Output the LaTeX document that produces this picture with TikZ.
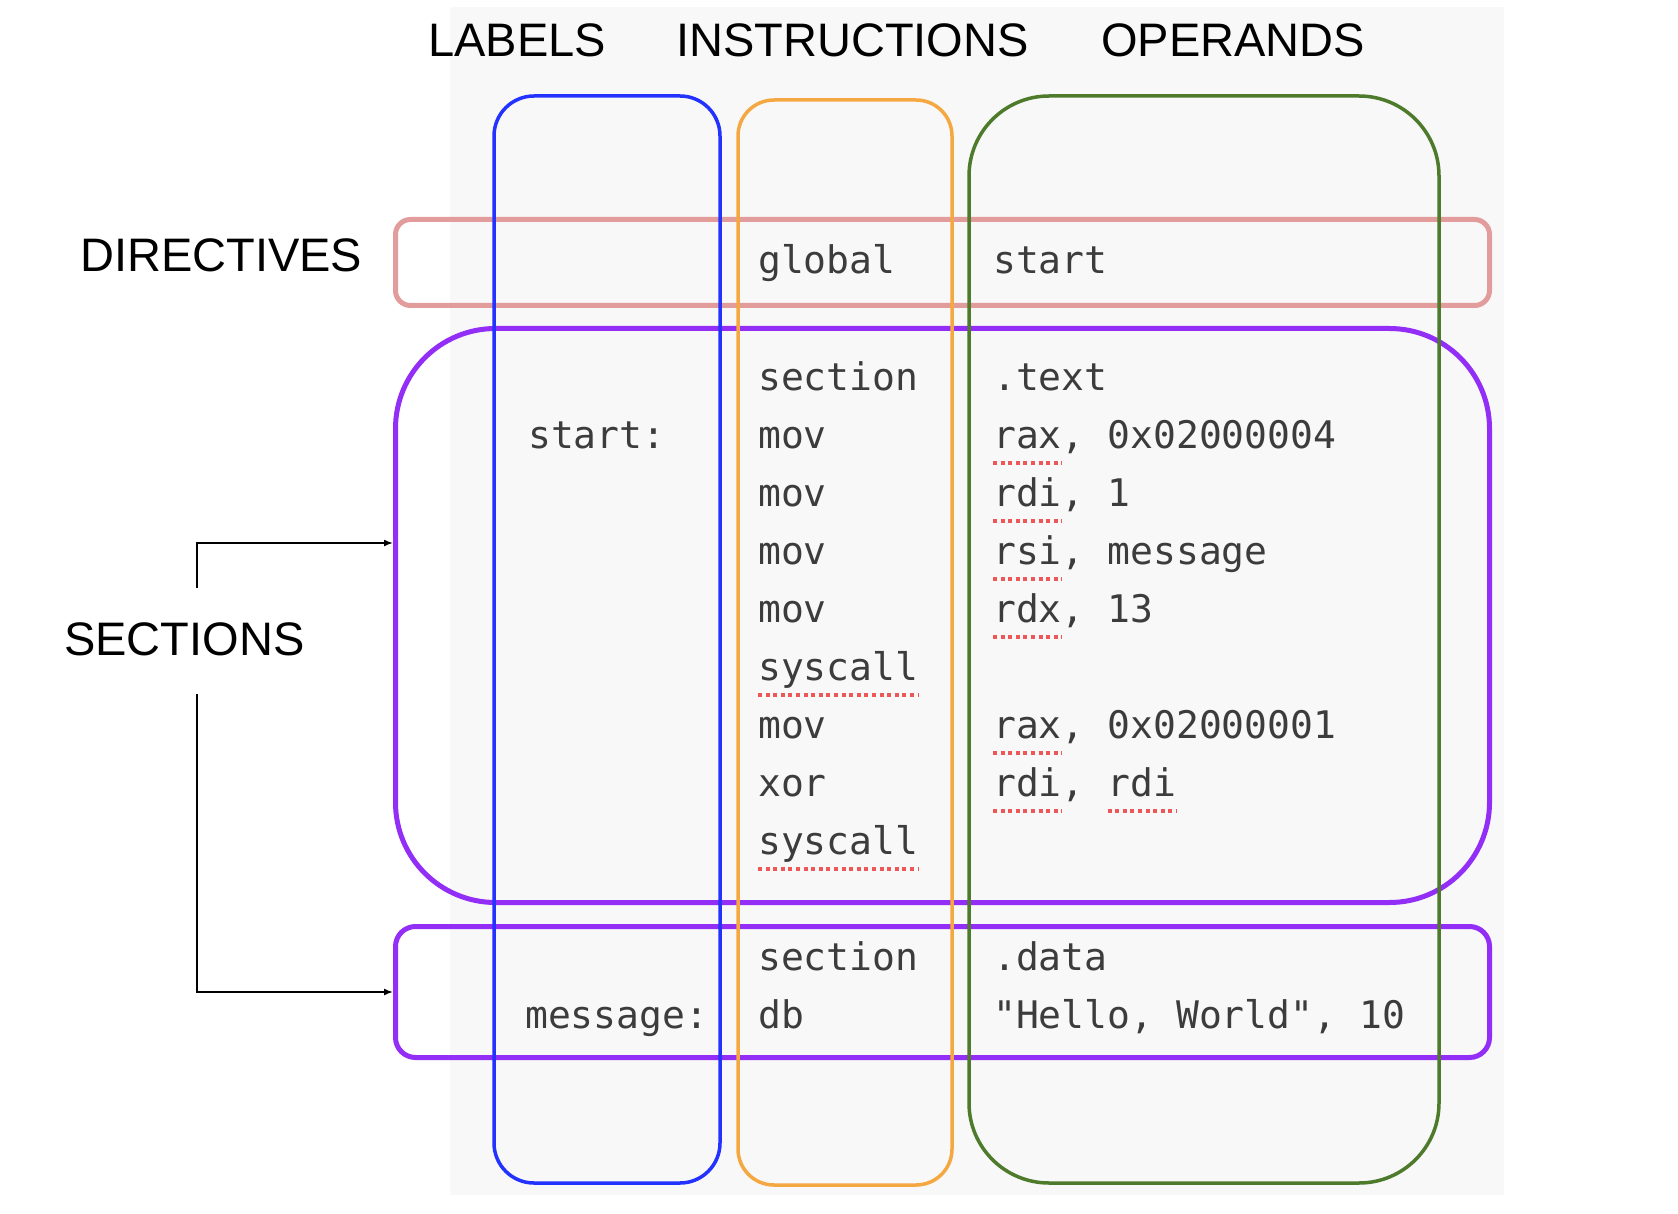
\documentclass[tikz,border=0pt]{standalone}
\usepackage{fontspec}
\setmainfont{Liberation Sans}
\setmonofont{DejaVu Sans Mono}
\usetikzlibrary{arrows.meta}

\definecolor{bggray}{RGB}{248,248,248}
\definecolor{labelblue}{RGB}{35,50,255}
\definecolor{instrorange}{RGB}{245,168,66}
\definecolor{opergreen}{RGB}{78,122,44}
\definecolor{dirpink}{RGB}{226,156,156}
\definecolor{secpurple}{RGB}{146,46,246}
\definecolor{codegray}{RGB}{60,60,60}
\definecolor{spellred}{RGB}{236,88,88}

\def\cw{22.9}
\def\rowh{58}

\tikzset{
  head/.style={anchor=base west, inner sep=0, font=\fontsize{47}{47}\selectfont},
  code/.style={anchor=base west, inner sep=0, text=codegray, font=\fontsize{38}{38}\ttfamily},
  column/.style={rounded corners=#1, line width=3.5pt},
  dirbox/.style={draw=dirpink, line width=5pt, rounded corners=15pt, anchor=north west, inner sep=0},
  secbox/.style={draw=secpurple, line width=5pt, rounded corners=#1, anchor=north west, inner sep=0},
  spell/.style={spellred, line width=3.5pt, dash pattern=on 4pt off 3.6pt},
  arr/.style={-{Latex[length=9pt,width=7pt]}, line width=1.5pt}
}

\begin{document}
\begin{tikzpicture}[x=1pt,y=-1pt]
 \useasboundingbox (0,0) rectangle (1678,1214);
 \fill[bggray] (450,7) rectangle (1504,1195);

 % column titles
 \node[head] (labels) at (428,57) {LABELS};
 \node[head] (instrs) at (676,57) {INSTRUCTIONS};
 \node[head] (opers) at (1101,57) {OPERANDS};

 % row titles
 \node[head] (dirs) at (80,272) {DIRECTIVES};
 \node[head] (sections) at (64,655) {SECTIONS};

 % directive and section boxes
 \node[dirbox, minimum width=1094pt, minimum height=86pt] (dirrow) at (393,217) {};
 \node[secbox=100pt, minimum width=1094pt, minimum height=574pt] (textsec) at (393,326) {};
 \node[secbox=20pt, minimum width=1094pt, minimum height=131pt] (datasec) at (393,924) {};

 % columns
 \draw[column=40pt, labelblue] (494,96) rectangle (720,1183);
 \draw[column=36pt, instrorange] (738,100) rectangle (952,1185);
 \draw[column=80pt, opergreen] (969,96) rectangle (1439,1183);

 % directive
 \node[code] (glob) at (758,274) {global};
 \node[code] (globop) at (993,274) {start};

 % text section
 \node[code] (startlbl) at (528,\rowh*1+390) {start:};
 \foreach \ins/\op [count=\i from 0] in {section/.text, mov/{rax, 0x02000004},
   mov/{rdi, 1}, mov/{rsi, message}, mov/{rdx, 13}, syscall/{},
   mov/{rax, 0x02000001}, xor/{rdi, rdi}, syscall/{}}
 {
  \node[code] (ins\i) at (758,\rowh*\i+390) {\ins};
  \node[code] (op\i) at (993,\rowh*\i+390) {\op};
 }

 % data section
 \node[code] (sec2) at (758,970) {section};
 \node[code] (op9) at (993,970) {.data};
 \node[code] (msglbl) at (525,1028) {message:};
 \node[code] (db) at (758,1028) {db};
 \node[code] (op10) at (993,1028) {"Hello, World", 10};

 % spell check marks
 \foreach \i in {1,2,3,4,6,7}
  \draw[spell] ([yshift=-15pt]op\i.base west) -- ++(3*\cw,0);
 \draw[spell] ([xshift=5*\cw pt,yshift=-15pt]op7.base west) -- ++(3*\cw,0);
 \foreach \i in {5,8}
  \draw[spell] ([yshift=-15pt]ins\i.base west) -- ++(7*\cw,0);

 % arrows to the sections
 \coordinate (secup) at (197,588);
 \coordinate (secdown) at (197,694);
 \coordinate (textin) at (textsec.west |- 0,543);
 \draw[arr] (secup) |- (textin);
 \draw[arr] (secdown) |- (datasec.west);
\end{tikzpicture}
\end{document}
